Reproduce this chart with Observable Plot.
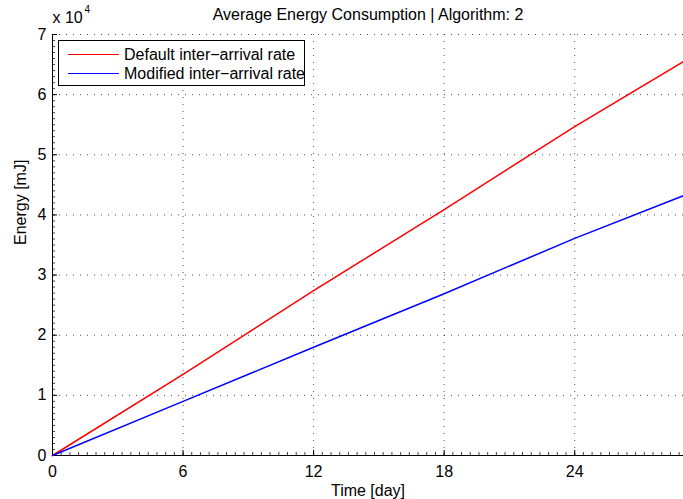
<!DOCTYPE html>
<html>
<head>
<meta charset="utf-8">
<script src="https://cdn.jsdelivr.net/npm/d3@7"></script>
<script src="https://cdn.jsdelivr.net/npm/@observablehq/plot@0.6"></script>
<style>
  html, body { margin: 0; padding: 0; background: #fff; }
  #wrap { position: relative; width: 683px; height: 499px; font-family: "Liberation Sans", Arial, sans-serif; }
  #legend { position: absolute; left: 58px; top: 40px; width: 245px; height: 44px; border: 1px solid #000; background: #fff; font-size: 16px; }
  .row { position: absolute; left: 9px; height: 19px; display: flex; align-items: center; white-space: nowrap; }
  .row span.line { display: inline-block; width: 51px; height: 0; border-top: 1.5px solid; margin-right: 5px; }
</style>
</head>
<body>
<div id="wrap"></div>
<script>
const days = [0, 6, 12, 18, 24, 29];
const defaultEnergy = [0, 13500, 27400, 40900, 54700, 65500];
const modifiedEnergy = [0, 9000, 18000, 26900, 36100, 43200];
const seriesNames = ["Default inter\u2212arrival rate", "Modified inter\u2212arrival rate"];
const seriesColors = ["#ff0000", "#0000ff"];
const xTicks = [0, 6, 12, 18, 24];
const yTicks = [0, 10000, 20000, 30000, 40000, 50000, 60000, 70000];
const xMinor = d3.range(0, 29.01, 0.4);
const yMinor = d3.range(0, 70001, 1000);
const titleText = "Average Energy Consumption | Algorithm: 2";
const xLabel = "Time [day]";
const yLabel = "Energy [mJ]";

const data = [];
days.forEach((d, i) => {
  data.push({day: d, energy: defaultEnergy[i], series: seriesNames[0]});
  data.push({day: d, energy: modifiedEnergy[i], series: seriesNames[1]});
});

const dotted = {stroke: "#000", strokeOpacity: 0.7, strokeDasharray: "1,6", strokeWidth: 1};
const FS = 16;

const chart = Plot.plot({
  width: 683,
  height: 499,
  marginLeft: 52,
  marginRight: 0,
  marginTop: 34,
  marginBottom: 44,
  style: {fontFamily: "Liberation Sans, Arial, sans-serif", fontSize: FS + "px", color: "#000", background: "#fff"},
  x: {domain: [0, 29], label: null},
  y: {domain: [0, 70000], label: null},
  color: {domain: seriesNames, range: seriesColors},
  marks: [
    Plot.gridX(xTicks.slice(1), dotted),
    Plot.gridY(yTicks.slice(1), dotted),
    Plot.ruleX(xMinor, {y1: 0, y2: 500, stroke: "#444"}),
    Plot.ruleY(yMinor, {x1: 0, x2: 0.14, stroke: "#444"}),
    Plot.ruleX(xTicks, {y1: 0, y2: 850, stroke: "#000"}),
    Plot.ruleY(yTicks, {x1: 0, x2: 0.23, stroke: "#000"}),
    Plot.axisX(xTicks, {tickSize: 0, tickPadding: 10, tickFormat: d => String(d), fontSize: FS, label: null}),
    Plot.axisY(yTicks, {tickSize: 0, tickPadding: 6, tickFormat: d => String(d / 10000), fontSize: FS, label: null}),
    Plot.ruleX([0], {stroke: "#000"}),
    Plot.ruleY([0], {stroke: "#000"}),
    Plot.line(data, {x: "day", y: "energy", stroke: "series", strokeWidth: 1.5}),
    Plot.text([titleText], {frameAnchor: "top", lineAnchor: "middle", dy: -20, fontSize: FS}),
    Plot.text(["x 10"], {frameAnchor: "top-left", lineAnchor: "middle", dy: -17, dx: 0, textAnchor: "start", fontSize: FS}),
    Plot.text(["4"], {frameAnchor: "top-left", lineAnchor: "middle", dy: -25, dx: 32, textAnchor: "start", fontSize: 10}),
    Plot.text([xLabel], {frameAnchor: "bottom", lineAnchor: "middle", dy: 35, fontSize: FS}),
    Plot.text([yLabel], {frameAnchor: "left", lineAnchor: "middle", dx: -32, rotate: -90, fontSize: FS})
  ]
});

const wrap = document.getElementById("wrap");
wrap.appendChild(chart);

const legend = document.createElement("div");
legend.id = "legend";
seriesNames.forEach((name, i) => {
  const row = document.createElement("div");
  row.className = "row";
  row.style.top = (4 + i * 19) + "px";
  const ln = document.createElement("span");
  ln.className = "line";
  ln.style.borderTopColor = seriesColors[i];
  row.appendChild(ln);
  const t = document.createElement("span");
  t.textContent = name;
  row.appendChild(t);
  legend.appendChild(row);
});
wrap.appendChild(legend);
</script>
</body>
</html>
